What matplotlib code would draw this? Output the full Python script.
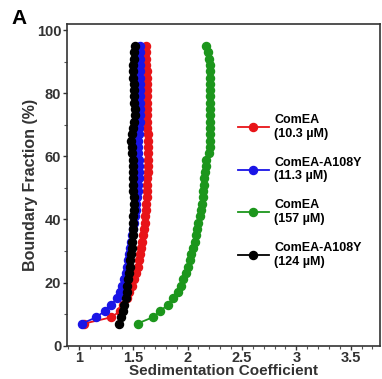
import matplotlib
matplotlib.use("Agg")
import matplotlib.pyplot as plt
from matplotlib.ticker import MultipleLocator

plt.rcParams['font.family'] = ['Liberation Sans', 'DejaVu Sans']
plt.rcParams['font.weight'] = 'bold'

# boundary fraction (%) shared by all four runs
boundary = [7, 9, 11, 13, 15, 17, 19, 21, 23, 25, 27, 29, 31, 33, 35, 37, 39, 41, 43, 45, 47, 49, 51,
            53, 55, 57, 59, 61, 63, 65, 67, 69, 71, 73, 75, 77, 79, 81, 83, 85, 87, 89, 91, 93, 95]

# sedimentation coefficients
s_comea_low = [1.05, 1.30, 1.38, 1.41, 1.44, 1.46, 1.49, 1.51, 1.53, 1.545, 1.555, 1.565, 1.575, 1.585,
               1.59, 1.60, 1.605, 1.61, 1.615, 1.62, 1.625, 1.63, 1.63, 1.63, 1.635, 1.635, 1.635, 1.635,
               1.635, 1.635, 1.635, 1.63, 1.63, 1.63, 1.63, 1.63, 1.63, 1.625, 1.625, 1.625, 1.625, 1.62,
               1.62, 1.62, 1.62]
s_mut_low = [1.03, 1.16, 1.24, 1.30, 1.35, 1.38, 1.40, 1.415, 1.43, 1.44, 1.45, 1.46, 1.47, 1.48, 1.49,
             1.50, 1.51, 1.52, 1.525, 1.53, 1.535, 1.54, 1.545, 1.55, 1.55, 1.55, 1.55, 1.545, 1.545, 1.545,
             1.55, 1.555, 1.56, 1.56, 1.56, 1.56, 1.56, 1.56, 1.56, 1.56, 1.56, 1.56, 1.56, 1.56, 1.56]
s_comea_high = [1.54, 1.68, 1.75, 1.82, 1.87, 1.91, 1.94, 1.96, 1.985, 2.005, 2.02, 2.035, 2.05, 2.065,
                2.08, 2.09, 2.10, 2.11, 2.12, 2.13, 2.14, 2.145, 2.15, 2.155, 2.16, 2.165, 2.17, 2.20,
                2.205, 2.21, 2.21, 2.21, 2.21, 2.21, 2.21, 2.21, 2.21, 2.21, 2.21, 2.21, 2.21, 2.205, 2.20,
                2.19, 2.17]
s_mut_high = [1.37, 1.39, 1.41, 1.42, 1.43, 1.44, 1.445, 1.45, 1.46, 1.47, 1.475, 1.48, 1.485, 1.49, 1.495,
              1.50, 1.50, 1.50, 1.505, 1.505, 1.505, 1.50, 1.50, 1.50, 1.50, 1.50, 1.495, 1.49, 1.485, 1.48,
              1.49, 1.50, 1.51, 1.515, 1.515, 1.51, 1.51, 1.51, 1.505, 1.50, 1.50, 1.50, 1.505, 1.51, 1.515]

series = [
    (s_comea_low, 'ComEA\n(10.3 µM)', '#e81418'),
    (s_mut_low, 'ComEA-A108Y\n(11.3 µM)', '#1a14e6'),
    (s_comea_high, 'ComEA\n(157 µM)', '#1c961c'),
    (s_mut_high, 'ComEA-A108Y\n(124 µM)', '#000000'),
]

fig = plt.figure(figsize=(3.82, 3.79), dpi=100)
ax = fig.add_axes([0.175, 0.088, 0.82, 0.849])

for xs, label, color in series:
    ax.plot(xs, boundary, '-o', color=color, markersize=5.8, linewidth=1.3, label=label)

ax.set_xlim(0.89, 3.77)
ax.set_ylim(0, 102)
ax.xaxis.set_major_locator(MultipleLocator(0.5))
ax.xaxis.set_minor_locator(MultipleLocator(0.1))
ax.yaxis.set_major_locator(MultipleLocator(20))
ax.yaxis.set_minor_locator(MultipleLocator(10))
ax.set_xticks([1, 1.5, 2, 2.5, 3, 3.5])
ax.set_xticklabels(['1', '1.5', '2', '2.5', '3', '3.5'])

ax.tick_params(which='major', direction='out', length=3, width=1, labelsize=10.5, pad=1, colors='#333333')
ax.tick_params(which='minor', direction='out', length=2, width=0.8, colors='#555555')
for lab in ax.get_xticklabels() + ax.get_yticklabels():
    lab.set_fontweight('bold')
for sp in ax.spines.values():
    sp.set_color('#333333')
    sp.set_linewidth(1.2)

ax.set_xlabel('Sedimentation Coefficient', fontsize=11, fontweight='bold', color='#333333', labelpad=-1)
ax.set_ylabel('Boundary Fraction (%)', fontsize=11.5, fontweight='bold', color='#333333', labelpad=-1)

ax.legend(loc='upper left', bbox_to_anchor=(0.51, 0.755), frameon=False, fontsize=9,
          handlelength=2.5, labelspacing=1.35, handletextpad=0.4, numpoints=1)

fig.text(0.03, 0.975, 'A', fontsize=15, fontweight='bold', va='top', ha='left')

fig.savefig('out.png', dpi=100)
